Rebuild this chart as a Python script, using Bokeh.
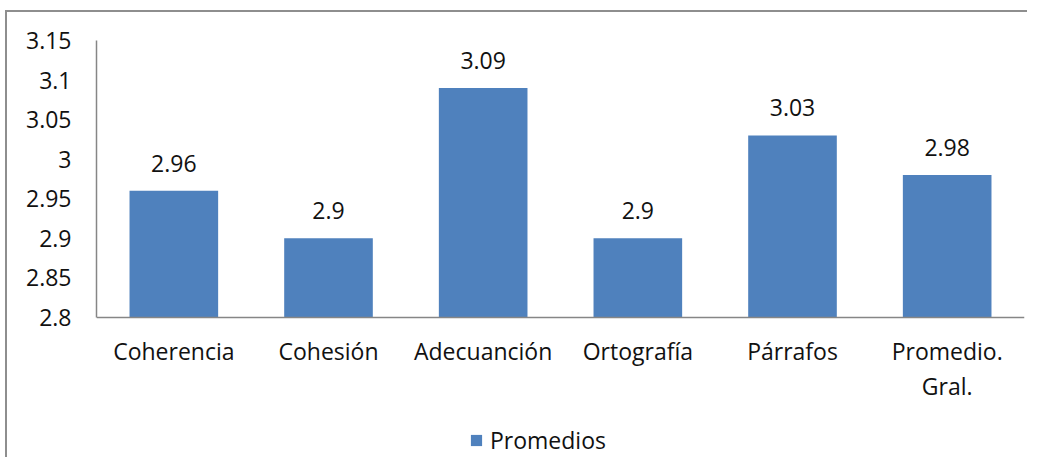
from bokeh.plotting import figure
from bokeh.models import (ColumnDataSource, LabelSet, FixedTicker, Legend, LegendItem,
                          Range1d, CustomJSTickFormatter)
from bokeh.core.properties import value
from bokeh.embed import file_html
from bokeh.resources import INLINE

categories = ["Coherencia", "Cohesión", "Adecuanción", "Ortografía", "Párrafos", "Promedio. Gral."]
category_labels = ["Coherencia", "Cohesión", "Adecuanción", "Ortografía", "Párrafos", "Promedio.\nGral."]
promedios = [2.96, 2.9, 3.09, 2.9, 3.03, 2.98]
value_labels = ["2.96", "2.9", "3.09", "2.9", "3.03", "2.98"]
y_ticks = [2.8, 2.85, 2.9, 2.95, 3.0, 3.05, 3.1, 3.15]
y_tick_labels = ["2.8", "2.85", "2.9", "2.95", "3", "3.05", "3.1", "3.15"]
series_name = "Promedios"

Y_MIN, Y_MAX = 2.8, 3.15
# frame extends below the value axis so that the tick labels and legend sit inside it
PX_AXIS = 277          # pixels from 3.15 down to 2.8
PX_BELOW = 140         # pixels below the 2.8 line
y_low = Y_MIN - PX_BELOW * (Y_MAX - Y_MIN) / PX_AXIS

FONT = "Open Sans"
FS = "23px"
TXT = "#111111"
BAR = "#4F81BD"
AX = "#868686"
BORDER = "#8E8E8E"

source = ColumnDataSource(dict(cat=categories, val=promedios, lab=value_labels))

p = figure(x_range=categories, y_range=Range1d(y_low, Y_MAX), width=1027, height=457,
           output_backend="svg", toolbar_location=None,
           min_border_left=96, min_border_right=3, min_border_top=40, min_border_bottom=0)
p.outline_line_color = None
p.border_fill_color = None
p.background_fill_color = None
p.xgrid.grid_line_color = None
p.ygrid.grid_line_color = None
grad = f"linear-gradient({BORDER}, {BORDER})"
p.styles = {
    "background": f"{grad} 5px 10px / 100% 2px no-repeat, {grad} 5px 10px / 2px 100% no-repeat, #ffffff",
}

r = p.vbar(x="cat", top="val", bottom=Y_MIN, width=0.573, source=source,
           fill_color=BAR, line_color=None)

labels = LabelSet(x="cat", y="val", text="lab", source=source, y_offset=19,
                  text_align="center", text_baseline="alphabetic",
                  text_font=value(FONT), text_font_size=value(FS), text_color=TXT)
p.add_layout(labels)

p.yaxis.ticker = FixedTicker(ticks=y_ticks)
p.yaxis.bounds = (Y_MIN, Y_MAX)
p.yaxis.formatter = CustomJSTickFormatter(
    args=dict(yvals=y_ticks, ylabs=y_tick_labels),
    code="for (let i = 0; i < yvals.length; i++) { if (Math.abs(yvals[i] - tick) < 1e-9) return ylabs[i]; } return String(tick);")
p.yaxis.major_tick_line_color = None
p.yaxis.minor_tick_line_color = None
p.yaxis.major_tick_out = 0
p.yaxis.major_label_standoff = 25
p.yaxis.axis_line_color = AX
p.yaxis.axis_line_width = 1.5

p.xaxis.fixed_location = Y_MIN
p.xaxis.formatter = CustomJSTickFormatter(
    args=dict(cats=categories, xlabs=category_labels),
    code="const i = cats.indexOf(tick); return i >= 0 ? xlabs[i] : tick;")
p.xaxis.major_tick_line_color = None
p.xaxis.minor_tick_line_color = None
p.xaxis.major_tick_out = 0
p.xaxis.major_label_standoff = 17
p.xaxis.major_label_text_line_height = 1.12
p.xaxis.axis_line_color = AX
p.xaxis.axis_line_width = 1.5

for ax in (p.xaxis[0], p.yaxis[0]):
    ax.major_label_text_font = FONT
    ax.major_label_text_font_size = FS
    ax.major_label_text_color = TXT

legend = Legend(items=[LegendItem(label=series_name, renderers=[r])],
                location=(373, 1), orientation="horizontal",
                glyph_width=14, glyph_height=14,
                label_text_font=FONT, label_text_font_size=FS, label_text_color=TXT,
                label_standoff=7, padding=0, margin=0, spacing=0,
                border_line_color=None, background_fill_alpha=0)
p.add_layout(legend)

open("out.html", "w").write(file_html(p, INLINE))
